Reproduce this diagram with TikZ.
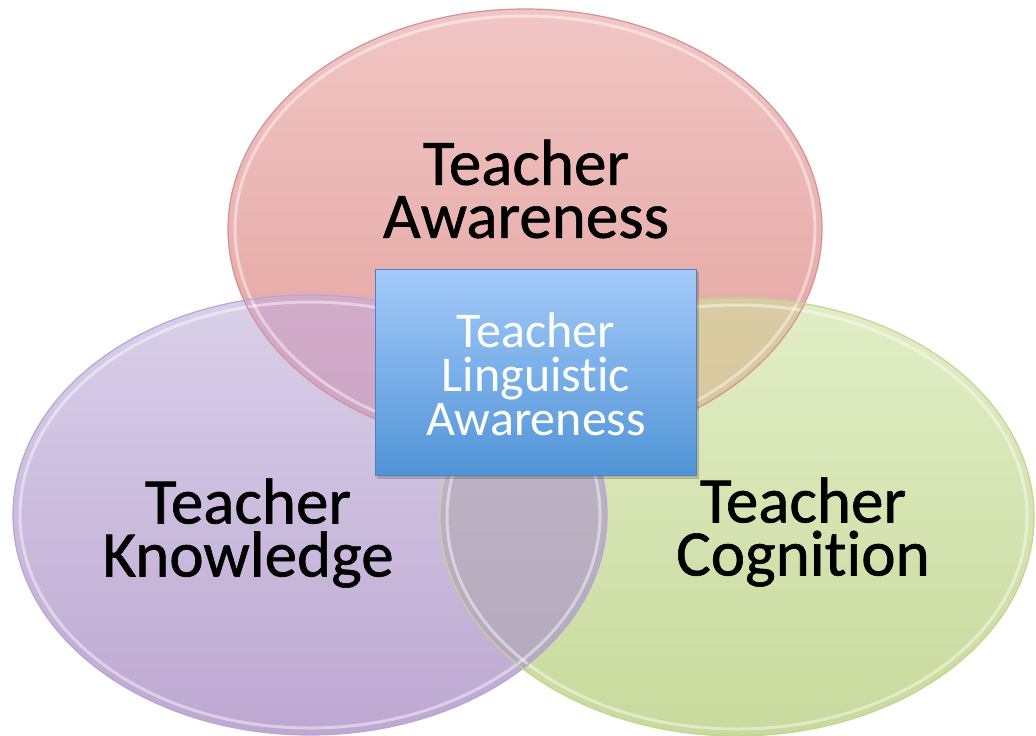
\documentclass[tikz,border=0pt]{standalone}
\usepackage{fontspec}
\setmainfont{Carlito}[Ligatures=NoCommon,RawFeature={-liga;-clig;-calt}]
\newfontfamily\lblfont{Carlito}[Ligatures=NoCommon,RawFeature={-liga;-clig;-calt},FakeBold=0.9]
\begin{document}
\begin{tikzpicture}[x=1pt,y=-1pt,
  rim/.style={line width=1.2pt},
  hilite/.style={draw=white,draw opacity=0.45,line width=3pt},
  lbl/.style={align=center,text=black,font=\lblfont\fontsize{65}{53}\selectfont},
  boxtxt/.style={align=center,text=white,font=\fontsize{50}{44}\selectfont}]
\definecolor{redT}{RGB}{240,198,196}\definecolor{redB}{RGB}{227,160,157}
\definecolor{purT}{RGB}{216,208,233}\definecolor{purB}{RGB}{190,168,210}
\definecolor{grnT}{RGB}{226,237,198}\definecolor{grnB}{RGB}{200,218,156}
\definecolor{rpT}{RGB}{210,172,202}\definecolor{rpB}{RGB}{198,152,186}
\definecolor{rgT}{RGB}{218,204,162}\definecolor{rgB}{RGB}{208,188,148}
\definecolor{pgT}{RGB}{192,184,200}\definecolor{pgB}{RGB}{178,168,188}
\definecolor{redL}{RGB}{212,146,146}\definecolor{purL}{RGB}{182,166,212}
\definecolor{grnL}{RGB}{196,212,146}
\definecolor{boxT}{RGB}{164,202,250}\definecolor{boxB}{RGB}{80,148,214}
\definecolor{boxL}{RGB}{78,130,190}
\useasboundingbox (0,0) rectangle (1036,736);
\fill[white] (0,0) rectangle (1036,736);
% base fills
\shade[top color=redT,bottom color=redB] (525,229) ellipse [x radius=297pt,y radius=220pt];
\shade[top color=purT,bottom color=purB] (310,515) ellipse [x radius=297pt,y radius=220pt];
\shade[top color=grnT,bottom color=grnB] (737,517) ellipse [x radius=297pt,y radius=219pt];
% overlaps
\begin{scope}
  \clip (525,229) ellipse [x radius=297pt,y radius=220pt];
  \shade[top color=rpT,bottom color=rpB] (310,515) ellipse [x radius=297pt,y radius=220pt];
\end{scope}
\begin{scope}
  \clip (525,229) ellipse [x radius=297pt,y radius=220pt];
  \shade[top color=rgT,bottom color=rgB] (737,517) ellipse [x radius=297pt,y radius=219pt];
\end{scope}
\begin{scope}
  \clip (310,515) ellipse [x radius=297pt,y radius=220pt];
  \shade[top color=pgT,bottom color=pgB] (737,517) ellipse [x radius=297pt,y radius=219pt];
\end{scope}
% rims and highlights
\draw[hilite] (525,229) ellipse [x radius=290pt,y radius=213pt];
\draw[hilite] (310,515) ellipse [x radius=290pt,y radius=213pt];
\draw[hilite] (737,517) ellipse [x radius=290pt,y radius=212pt];
\draw[rim,draw=redL] (525,229) ellipse [x radius=297pt,y radius=220pt];
\draw[rim,draw=purL] (310,515) ellipse [x radius=297pt,y radius=220pt];
\draw[rim,draw=grnL] (737,517) ellipse [x radius=297pt,y radius=219pt];
% center box
\fill[black,opacity=0.18] (377,272) rectangle (699,479);
\node[draw=boxL,line width=0.8pt,top color=boxT,bottom color=boxB,
      minimum width=321pt,minimum height=206pt,inner sep=0pt] (box) at (535.5,372) {};
\node[boxtxt] (boxlbl) at (536,374) {Teacher\\Linguistic\\Awareness};
% labels
\node[lbl] (ta) at (526,189) {Teacher\\Awareness};
\node[lbl] (tk) at (248,533) {Teacher\\Knowledge};
\node[lbl] (tc) at (803,532) {Teacher\\Cognition};
\end{tikzpicture}
\end{document}
